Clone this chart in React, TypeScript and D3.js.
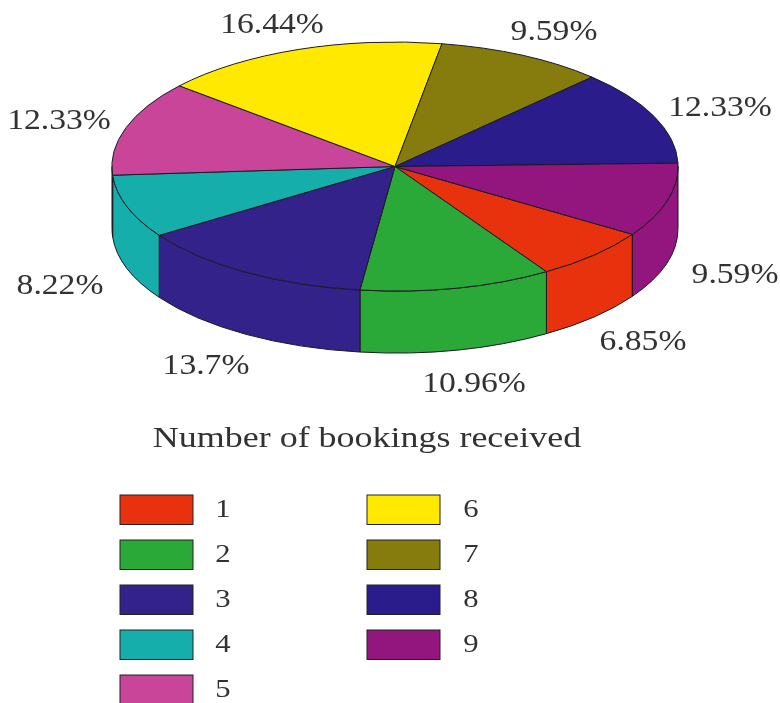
import React from "react";
import * as d3 from "d3";

const categories = ["1", "2", "3", "4", "5", "6", "7", "8", "9"];
const shares = [6.85, 10.96, 13.7, 8.22, 12.33, 16.44, 9.59, 12.33, 9.59];
const shareLabels = ["6.85%", "10.96%", "13.7%", "8.22%", "12.33%", "16.44%", "9.59%", "12.33%", "9.59%"];
const colors = ["#e8330f", "#2aa838", "#33208a", "#12aeab", "#c9459a", "#ffe900", "#857c0a", "#2a1f8a", "#93127f"];
const labelX = [643, 474, 206, 60, 59, 272, 554, 720, 735];
const labelY = [340, 382, 364, 284, 119, 23, 30, 106, 273];
const title = "Number of bookings received";

const W = 780, H = 703, CX = 395, CY = 166.5, RX = 283, RY = 124.5, DEPTH = 62;
const FONT = "'Liberation Serif', serif";
const rad = (d: number) => (d * Math.PI) / 180;

// Slice 1 begins 33° clockwise from 3 o'clock (d3 measures from 12 o'clock).
const START = rad(90 + 33);
const pie = d3.pie<number>().sort(null).startAngle(START).endAngle(START + 2 * Math.PI);
const arcs = pie(shares);
const unitArc = d3.arc<d3.PieArcDatum<number>>().innerRadius(0).outerRadius(1);

const xs = d3.scaleLinear().domain([-1, 1]).range([CX - RX, CX + RX]);
const ys = d3.scaleLinear().domain([-1, 1]).range([CY - RY, CY + RY]);
const px = (a: number) => xs(Math.sin(a));
const py = (a: number) => ys(-Math.cos(a));

function sidePath(a0: number, a1: number) {
  // visible front wall spans d3 angles 90°..270° (and the same +360°)
  const spans = [[rad(90), rad(270)], [rad(450), rad(630)]];
  let d = "";
  for (const [lo, hi] of spans) {
    const s = Math.max(a0, lo), e = Math.min(a1, hi);
    if (e <= s) continue;
    d += `M${px(s)},${py(s)}A${RX},${RY} 0 0 1 ${px(e)},${py(e)}L${px(e)},${py(e) + DEPTH}A${RX},${RY} 0 0 0 ${px(s)},${py(s) + DEPTH}Z`;
  }
  return d;
}

const legendRows = categories.map((c, i) => ({
  c,
  col: i < 5 ? 0 : 1,
  row: i < 5 ? i : i - 5,
  color: colors[i],
}));

const stretched = (x: number, y: number, k: number) => `translate(${x},${y}) scale(${k},1)`;

export default function App() {
  return (
    <svg width={W} height={H} viewBox={`0 0 ${W} ${H}`} style={{ position: "absolute", left: 0, top: 0, background: "#fff" }}>
      <defs>
        <filter id="soft" x="-2%" y="-2%" width="104%" height="104%">
          <feGaussianBlur stdDeviation="0.55" />
        </filter>
      </defs>
      <g filter="url(#soft)">
        {arcs.map((a, i) => (
          <path key={"s" + i} d={sidePath(a.startAngle, a.endAngle)} fill={colors[i]} stroke="#1b1b22" strokeWidth={1} />
        ))}
        {arcs.map((a, i) => (
          <path
            key={"t" + i}
            d={unitArc(a) as string}
            transform={`translate(${CX},${CY}) scale(${RX},${RY})`}
            fill={colors[i]}
            stroke="#1b1b22"
            strokeWidth={1}
            vectorEffect="non-scaling-stroke"
            strokeLinejoin="round"
          />
        ))}
        {legendRows.map((l) => (
          <rect key={l.c} x={l.col ? 367 : 120} y={495 + l.row * 45} width={73} height={29.5} fill={l.color} stroke="#222" strokeWidth={1} />
        ))}
      </g>
      <g fontFamily={FONT} fill="#333" filter="url(#soft)">
        {shareLabels.map((s, i) => (
          <text key={s + i} transform={stretched(labelX[i], labelY[i], 1.16)} textAnchor="middle" dominantBaseline="central" fontSize={29}>{s}</text>
        ))}
        <text transform={stretched(367, 437, 1.24)} textAnchor="middle" dominantBaseline="central" fontSize={29}>{title}</text>
        {legendRows.map((l) => (
          <text key={l.c} transform={stretched(l.col ? 471 : 223, 508.5 + l.row * 45, 1.18)} textAnchor="middle" dominantBaseline="central" fontSize={26}>{l.c}</text>
        ))}
      </g>
    </svg>
  );
}
